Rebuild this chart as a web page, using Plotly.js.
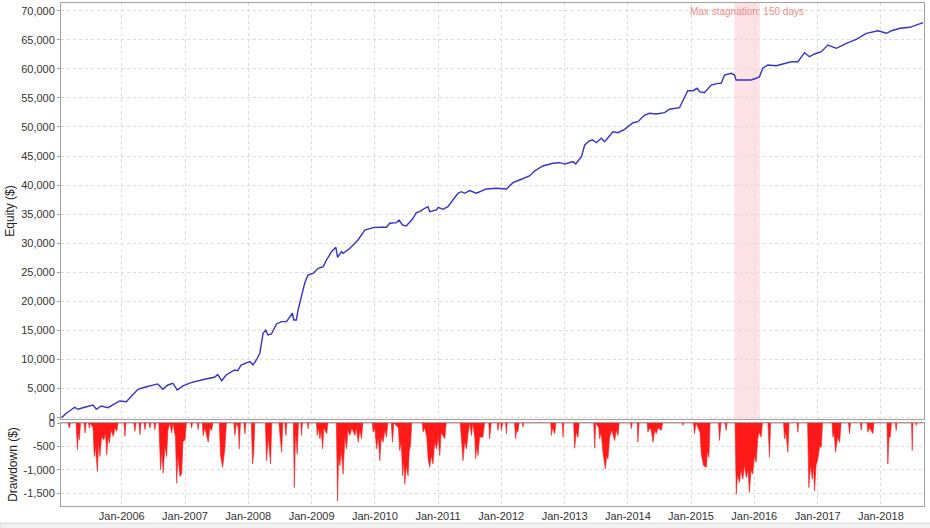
<!DOCTYPE html>
<html><head><meta charset="utf-8">
<script src="https://cdn.plot.ly/plotly-3.0.1.min.js"></script>
<style>html,body{margin:0;padding:0;background:#fff}#chart{width:930px;height:528px}</style>
</head><body><div id="chart"></div>
<script>
// Equity curve ($)
const eqDates = ['2005-01-18','2005-02-15','2005-04-04','2005-04-23','2005-06-01','2005-07-19','2005-08-07','2005-09-05','2005-10-13','2005-12-20',
'2006-01-27','2006-04-04','2006-05-13','2006-06-30','2006-07-28','2006-08-26','2006-09-24','2006-10-23','2006-11-17','2006-12-20',
'2007-02-05','2007-04-24','2007-06-20','2007-07-09','2007-08-01','2007-08-26','2007-10-14','2007-11-02','2007-11-21','2007-12-25',
'2008-01-11','2008-01-29','2008-02-17','2008-03-08','2008-03-27','2008-04-11','2008-04-24','2008-05-14','2008-06-12','2008-07-11','2008-08-09','2008-09-12','2008-09-20','2008-10-05','2008-10-15','2008-11-03','2008-11-22','2008-12-11',
'2009-01-11','2009-02-08','2009-03-09','2009-03-28','2009-04-26','2009-05-21','2009-05-31','2009-06-23','2009-07-02','2009-08-10','2009-09-26','2009-11-04','2009-12-22',
'2010-01-30','2010-03-09','2010-03-28','2010-05-06','2010-05-21','2010-06-09','2010-07-02','2010-08-10','2010-08-29','2010-09-17','2010-10-16','2010-11-04','2010-11-14','2010-12-23',
'2011-01-02','2011-01-30','2011-02-27','2011-03-28','2011-04-26','2011-05-16','2011-06-04','2011-07-02','2011-08-10','2011-10-07','2011-12-04',
'2012-01-31','2012-03-08','2012-04-16','2012-06-12','2012-07-11','2012-08-28','2012-10-25','2012-12-03',
'2013-01-02','2013-02-18','2013-03-06','2013-04-08','2013-04-27','2013-05-25','2013-06-13','2013-07-03','2013-08-01','2013-08-20','2013-10-07','2013-11-05','2013-12-13',
'2014-01-31','2014-02-28','2014-04-08','2014-05-06','2014-06-14','2014-08-01','2014-08-30','2014-10-26','2014-11-15','2014-12-13',
'2015-01-12','2015-02-05','2015-02-19','2015-03-19','2015-04-27','2015-06-04','2015-06-24','2015-07-13','2015-08-21','2015-09-09','2015-09-18','2015-10-26','2015-12-14',
'2016-01-12','2016-01-31','2016-02-19','2016-03-19','2016-05-07','2016-06-14','2016-08-01','2016-09-09','2016-10-17','2016-11-15','2016-12-14',
'2017-01-22','2017-03-01','2017-04-19','2017-06-16','2017-08-12','2017-10-09','2017-12-15',
'2018-02-03','2018-03-04','2018-04-21','2018-06-17','2018-07-26','2018-09-02'];
const eqValues = [0,750,1790,1440,1790,2180,1440,2010,1720,2870,
2750,4880,5230,5620,5800,4880,5620,5920,4760,5450,
6020,6600,6950,7400,6360,7340,8200,8080,9060,9460,
9630,9060,9920,11080,14520,15080,14220,14400,16120,16510,16510,17960,16800,16800,18520,20810,23110,24540,
24840,25700,25970,27120,28550,29300,27590,28550,28280,29140,30560,32280,32680,
32750,32750,33440,33540,34000,33140,32960,34290,35260,35430,36020,36290,35430,35720,
36190,35840,36290,37440,38600,38870,38600,39050,38600,39340,39460,
39340,40420,40880,41570,42430,43290,43760,43860,
43640,44040,43640,44900,46910,47650,47760,47300,48060,47470,49190,49020,49600,
50740,50910,52060,52360,52240,52460,53050,53320,54520,56240,
56240,56660,56070,55900,57220,57510,57510,58940,59240,58940,58080,58080,58080,
58380,58650,60100,60660,60540,60840,61230,61230,62780,62090,62560,
62950,64100,63540,64400,65080,66120,66560,
66120,66560,66980,67150,67550,67940];

// Drawdown ($), positions given as decimal years
const ddYears = [2005.041,2005.152,2005.172,2005.191,2005.278,2005.299,2005.314,2005.330,2005.349,2005.404,2005.420,2005.436,2005.476,2005.488,2005.499,2005.547,2005.567,2005.586,2005.615,2005.633,2005.657,2005.681,2005.720,2005.744,2005.763,2005.784,2005.804,2005.831,2005.867,2005.894,2005.921,2005.942,
2006.036,2006.052,2006.068,2006.194,2006.210,2006.226,2006.273,2006.289,2006.305,2006.352,2006.368,2006.384,2006.431,2006.447,2006.463,2006.510,2006.526,2006.542,2006.589,2006.616,2006.637,2006.657,2006.684,2006.711,2006.731,2006.763,2006.790,2006.810,2006.850,2006.869,2006.889,2006.921,2006.948,2006.968,
2007.000,2007.024,2007.095,2007.106,2007.118,2007.197,2007.210,2007.221,2007.276,2007.289,2007.316,2007.368,2007.395,2007.422,2007.442,2007.545,2007.564,2007.596,2007.632,2007.656,2007.774,2007.790,2007.814,2007.845,2007.858,2007.877,2007.932,2007.948,2007.964,
2008.051,2008.070,2008.090,2008.106,2008.272,2008.291,2008.319,2008.354,2008.374,2008.485,2008.501,2008.528,2008.548,2008.580,2008.596,2008.611,2008.714,2008.727,2008.746,2008.774,2008.793,2008.833,2008.844,2008.856,2008.935,2008.948,2008.959,
2009.077,2009.090,2009.109,2009.133,2009.156,2009.175,2009.196,2009.239,2009.259,2009.393,2009.412,2009.430,2009.449,2009.472,2009.501,2009.528,2009.555,2009.575,2009.607,2009.638,2009.686,2009.709,2009.738,2009.765,2009.791,2009.812,2009.962,2009.975,
2010.002,2010.028,2010.057,2010.081,2010.104,2010.133,2010.160,2010.186,2010.207,2010.262,2010.281,2010.302,2010.373,2010.397,2010.420,2010.439,2010.460,2010.476,2010.499,2010.528,2010.547,2010.566,2010.586,2010.752,2010.765,2010.791,2010.823,2010.844,2010.870,2010.894,2010.923,2010.949,2010.976,
2011.005,2011.028,2011.052,2011.107,2011.131,2011.352,2011.371,2011.397,2011.423,2011.450,2011.479,2011.502,2011.529,2011.550,2011.581,2011.597,2011.613,2011.633,2011.660,2011.712,2011.739,2011.803,2011.818,2011.842,2011.937,2011.949,2011.968,2011.992,
2012.003,2012.024,2012.071,2012.082,2012.095,2012.213,2012.229,2012.245,2012.265,2012.284,2012.332,2012.344,2012.355,2012.782,2012.793,2012.814,2012.845,2012.861,2012.964,2012.976,2012.987,
2013.145,2013.161,2013.185,2013.213,2013.232,2013.461,2013.477,2013.493,2013.540,2013.556,2013.580,2013.608,2013.646,2013.667,2013.687,2013.714,2013.746,2013.793,2013.817,2013.845,2013.864,
2014.046,2014.057,2014.070,2014.148,2014.161,2014.180,2014.306,2014.319,2014.346,2014.370,2014.398,2014.425,2014.452,2014.480,2014.531,2014.551,2014.859,2014.872,2014.883,
2015.041,2015.057,2015.081,2015.144,2015.163,2015.199,2015.242,2015.262,2015.283,2015.302,2015.436,2015.452,2015.476,2015.539,2015.558,2015.570,2015.697,2015.716,2015.736,2015.768,2015.791,2015.820,2015.847,2015.874,2015.902,2015.926,2015.949,2015.978,
2016.005,2016.032,2016.060,2016.084,2016.111,2016.131,2016.218,2016.242,2016.258,2016.463,2016.479,2016.502,2016.531,2016.550,2016.676,2016.689,2016.700,2016.842,2016.863,2016.889,2016.916,2016.937,2016.953,2016.976,
2017.005,2017.032,2017.058,2017.079,2017.229,2017.242,2017.261,2017.284,2017.316,2017.348,2017.371,2017.490,2017.506,2017.521,2017.679,2017.690,2017.703,2017.782,2017.795,2017.821,2017.874,2017.893,
2018.098,2018.111,2018.130,2018.148,2018.169,2018.232,2018.243,2018.256,2018.485,2018.496,2018.509,2018.548,2018.559,2018.572,2018.675];
const ddValues = [0,0,-107,0,0,-570,-200,-357,0,0,-214,0,0,-107,0,-100,-714,-500,-1035,-400,-714,-300,-357,-200,-678,-300,-428,-150,-286,-100,-178,0,
0,-286,0,0,-178,0,0,-250,0,0,-143,0,0,-107,0,0,-143,0,0,-1000,-600,-1071,-500,-714,-150,0,-214,0,-300,-1285,-700,-1142,-1071,-400,
-357,0,0,-107,0,0,-143,0,0,-265,-100,-409,-100,-158,0,0,-695,-946,-552,0,0,-265,0,-100,-552,0,0,-229,0,
0,-875,-624,0,0,-803,-300,-875,0,0,-194,-624,0,0,-265,0,0,-1377,-200,-660,0,0,-265,0,0,-122,0,
0,-265,-100,-337,-150,-552,-100,-229,0,0,-1663,-700,-910,-600,-1090,-300,-552,-150,-265,-100,-265,-100,-409,-150,-337,0,0,-194,
-100,-552,-300,-803,-300,-409,-150,-301,0,0,-409,0,-100,-588,-400,-1126,-800,-1305,-900,-1126,-600,-480,0,0,-194,-100,-300,-767,-946,-700,-875,-400,-552,
-300,-695,-200,-337,0,0,-337,-803,-400,-552,-200,0,-265,0,-300,-767,-500,-695,-300,-301,0,0,-337,0,0,-158,0,0,
-158,0,0,-229,0,0,-337,-150,-194,0,0,-86,0,0,-265,-100,-229,0,0,-301,0,
0,-538,-200,-301,0,0,-538,0,-100,-337,-200,-624,-982,-700,-767,-300,-150,-373,-150,-265,0,
0,-122,0,0,-409,0,0,-194,-100,-150,-409,-150,-229,-100,-158,0,0,-50,0,
0,-229,0,-200,-660,-910,-946,-600,-731,0,0,-373,0,0,-158,0,0,-1520,-1100,-1269,-1000,-1197,-900,-1162,-1000,-1484,-1000,-1090,
-700,-839,-300,-200,-301,0,0,-731,0,0,-337,-200,-624,0,0,-194,0,0,-1377,-900,-1197,-900,-1448,-900,
-767,-500,-516,0,0,-301,-200,-624,-300,-409,0,0,-229,0,0,-158,0,0,-194,-100,-229,0,
0,-875,-300,-301,0,0,-158,0,0,-588,0,0,-50,0,0];

const ddTickVals = [0,-500,-1000,-1500];
const ddTickText = ['0','-500','-1,000','-1,500'];
const stagnationStart = '2015-09-09';
const stagnationEnd = '2016-02-02';
const stagnationMid = '2015-11-21';
const stagnationLabel = 'Max stagnation: 150 days';
const xRange = ['2005-01-15','2018-09-07'];

function yearToDate(v){
  const y = Math.floor(v);
  const s = Date.UTC(y,0,1), e = Date.UTC(y+1,0,1);
  return new Date(s + (v-y)*(e-s)).toISOString().slice(0,10);
}
const ddDates = ddYears.map(yearToDate);

const FONT = 'Liberation Sans, Arial, sans-serif';
const gridStyle = {showgrid:true, gridcolor:'#dcdcdc', griddash:'3px,3px', gridwidth:1};
const frame = {showline:true, mirror:true, linecolor:'#a0a0a0', linewidth:1};

const traces = [
  {x: eqDates, y: eqValues, type:'scatter', mode:'lines', xaxis:'x', yaxis:'y',
   line:{color:'#3434c8', width:1.4}, hoverinfo:'x+y'},
  {x: ddDates, y: ddValues, type:'scatter', mode:'lines', xaxis:'x2', yaxis:'y2',
   fill:'tozeroy', fillcolor:'rgba(255,0,0,0.9)', line:{color:'#ff1a1a', width:0.6}}
];

const layout = {
  width:930, height:528,
  margin:{l:61, r:6, t:3, b:22},
  paper_bgcolor:'#ffffff', plot_bgcolor:'#ffffff',
  showlegend:false,
  font:{family:FONT, size:11, color:'#333333'},
  xaxis: Object.assign({type:'date', range:xRange, anchor:'y', showticklabels:false,
    dtick:'M12', tick0:'2006-01-01', ticks:'', zeroline:false}, gridStyle, frame),
  xaxis2: Object.assign({type:'date', range:xRange, anchor:'y2', matches:'x',
    dtick:'M12', tick0:'2006-01-01', tickformat:'%b-%Y', ticks:'',
    tickfont:{family:FONT, size:11, color:'#333'}, zeroline:false}, gridStyle, frame),
  yaxis: Object.assign({domain:[0.173,1], anchor:'x', range:[-230,71330], dtick:5000, tick0:0,
    tickformat:',d', ticks:'outside', ticklen:3, tickcolor:'#a0a0a0', zeroline:false,
    tickfont:{family:FONT, size:11, color:'#333'},
    title:{text:'Equity ($)', font:{family:FONT, size:12, color:'#222'}, standoff:3}}, gridStyle, frame),
  yaxis2: Object.assign({domain:[0,0.165], anchor:'x2', range:[-1770,0],
    tickvals:ddTickVals, ticktext:ddTickText, ticks:'outside', ticklen:3, tickcolor:'#a0a0a0', zeroline:false,
    tickfont:{family:FONT, size:11, color:'#333'},
    title:{text:'Drawdown ($)', font:{family:FONT, size:12, color:'#222'}, standoff:3}}, gridStyle, frame),
  shapes:[
    {type:'rect', xref:'x', yref:'y domain', x0:stagnationStart, x1:stagnationEnd, y0:0, y1:1,
     fillcolor:'rgba(250,190,200,0.45)', line:{width:0}, layer:'below'},
    {type:'rect', xref:'paper', yref:'paper', x0:-0.0707, x1:1.008, y0:-0.0450, y1:-0.0338,
     fillcolor:'#f0f0f0', line:{color:'#d8d8d8', width:1}}
  ],
  annotations:[
    {x:stagnationMid, xref:'x', y:1, yref:'y domain', yanchor:'top', xanchor:'center', yshift:-1,
     text:stagnationLabel, showarrow:false, font:{family:FONT, size:10, color:'#f08a8a'}}
  ]
};

Plotly.newPlot('chart', traces, layout, {displayModeBar:false, staticPlot:true});
</script>
</body></html>
